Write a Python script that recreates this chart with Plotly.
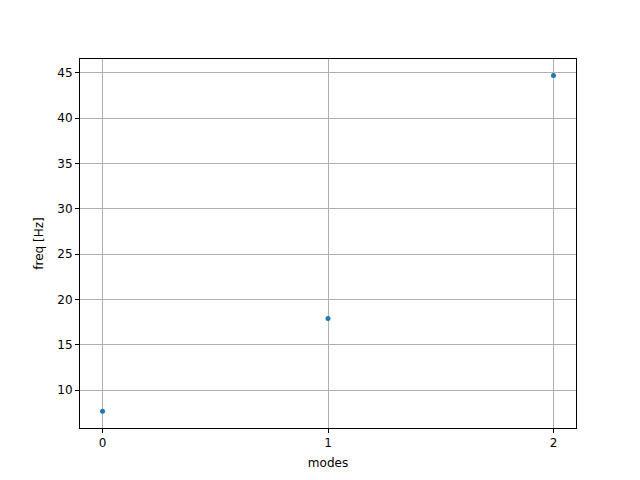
import plotly.graph_objects as go

# mode index and frequency values
modes = [0, 1, 2]
freq_hz = [7.7, 17.9, 44.7]

fig = go.Figure()

fig.add_trace(go.Scatter(
    x=modes,
    y=freq_hz,
    mode='markers',
    marker=dict(size=5, color='#1f77b4'),
    showlegend=False
))

axis_style = dict(
    showgrid=True,
    gridcolor='#b0b0b0',
    gridwidth=1,
    showline=True,
    linecolor='black',
    linewidth=1,
    mirror=True,
    ticks='outside',
    ticklen=4,
    tickcolor='black',
    zeroline=False,
    tickfont=dict(family='DejaVu Sans', size=12, color='black'),
)

fig.update_xaxes(
    range=[-0.1, 2.1],
    tickvals=modes,
    title=dict(text='modes', font=dict(family='DejaVu Sans', size=12, color='black'), standoff=9),
    **axis_style
)
fig.update_yaxes(
    range=[5.84, 46.52],
    tickvals=[10, 15, 20, 25, 30, 35, 40, 45],
    title=dict(text='freq [Hz]', font=dict(family='DejaVu Sans', size=12, color='black'), standoff=11),
    **axis_style
)

# page body has an 8px margin, so shift the plot area up/left to line up
fig.update_layout(
    width=640,
    height=480,
    plot_bgcolor='white',
    paper_bgcolor='white',
    margin=dict(l=72, r=72, t=51, b=60),
)

fig.write_html("out.html")
